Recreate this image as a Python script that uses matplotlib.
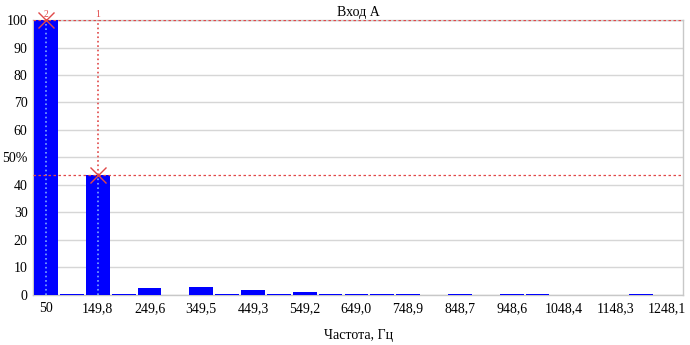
import matplotlib.pyplot as plt

# harmonic numbers and their share of the fundamental, %
harmonics = list(range(1, 26))
levels = [100, 0.4, 43.6, 0.4, 2.6, 0, 3.0, 0.4, 1.8, 0.4,
          1.1, 0.4, 0.4, 0.4, 0.4, 0, 0.4, 0, 0.4, 0.4,
          0, 0, 0, 0.4, 0]

# x tick labels (frequency, Hz) at odd harmonics
tick_harm = [1, 3, 5, 7, 9, 11, 13, 15, 17, 19, 21, 23, 25]
tick_freq = ['50', '149,8', '249,6', '349,5', '449,3', '549,2', '649,0',
             '748,9', '848,7', '948,6', '1048,4', '1148,3', '1248,1']

y_ticks = [0, 10, 20, 30, 40, 50, 60, 70, 80, 90, 100]
y_labels = ['0', '10', '20', '30', '40', '50%', '60', '70', '80', '90', '100']

# cursors: (harmonic, level, label)
cursors = [(1, 100, '2'), (3, 43.6, '1')]

plt.rcParams['font.family'] = ['Liberation Serif', 'DejaVu Serif']

fig = plt.figure(figsize=(6.9, 3.45), dpi=100)
ax = fig.add_axes([0.048, 0.145, 0.942, 0.797])

ax.bar(harmonics, levels, width=0.92, color='#0000ff', zorder=3)

ax.set_xlim(0.5, 25.63)
ax.set_ylim(0, 100)
ax.set_xticks(tick_harm)
ax.set_xticklabels(tick_freq, fontsize=10)
ax.set_yticks(y_ticks)
ax.set_yticklabels(y_labels, fontsize=10)
ax.tick_params(length=0, pad=4)
ax.tick_params(axis='x', pad=5)

ax.grid(axis='y', color='#d6d6d6', linewidth=1, zorder=0)
for s in ax.spines.values():
    s.set_color('#c8c8c8')
    s.set_linewidth(1)

ax.set_title('Вход А', fontsize=10, pad=3)
ax.set_xlabel('Частота, Гц', fontsize=10, labelpad=10)

# cursor lines and markers
for h, lv, lab in cursors:
    ax.axhline(lv, color='#e04848', linestyle=(0, (2, 2)), linewidth=0.9, zorder=4)
    ax.plot([h, h], [lv, 100], color='#e04848', linestyle=':', linewidth=1.2, zorder=4, clip_on=False)
    ax.plot([h, h], [0, lv], color='#7fa8ff', linestyle=':', linewidth=1.2, zorder=4)
    ax.plot(h, lv, marker='x', markersize=11, color='#e04848', mew=1.0, zorder=5, clip_on=False)
    ax.text(h, 100.5, lab, color='#e04848', fontsize=7, ha='center', va='bottom', zorder=5)

plt.savefig('out.png', dpi=100)
